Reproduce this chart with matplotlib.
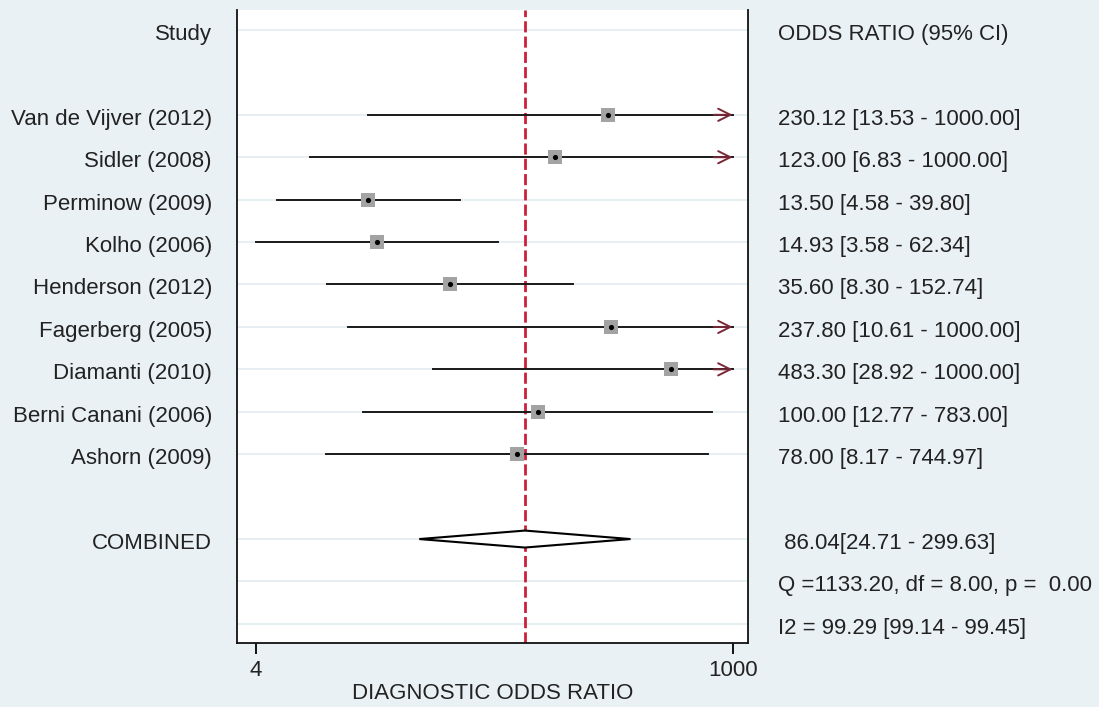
import matplotlib.pyplot as plt
import matplotlib.transforms as mtransforms

plt.rcParams['font.family'] = ['Liberation Sans', 'DejaVu Sans']

studies = ["Van de Vijver (2012)", "Sidler (2008)", "Perminow (2009)", "Kolho (2006)",
           "Henderson (2012)", "Fagerberg (2005)", "Diamanti (2010)",
           "Berni Canani (2006)", "Ashorn (2009)"]
odds = [230.12, 123.00, 13.50, 14.93, 35.60, 237.80, 483.30, 100.00, 78.00]
lower = [13.53, 6.83, 4.58, 3.58, 8.30, 10.61, 28.92, 12.77, 8.17]
upper = [1000.00, 1000.00, 39.80, 62.34, 152.74, 1000.00, 1000.00, 783.00, 744.97]

comb_or, comb_lo, comb_hi = 86.04, 24.71, 299.63
q_text = "Q =1133.20, df = 8.00, p =  0.00"
i2_text = "I2 = 99.29 [99.14 - 99.45]"

tick_vals = [3.58, 1000]
tick_labels = ["4", "1000"]

bg = '#eaf1f4'
fig = plt.figure(figsize=(10.99, 7.07), dpi=100, facecolor=bg)
ax = fig.add_axes([237 / 1099, 1 - 643 / 707, 511 / 1099, 633 / 707])
ax.set_facecolor('white')
ax.set_xscale('log')
ax.set_xlim(2.87, 1200)
ax.set_ylim(14.45, -0.47)

study_rows = list(range(2, 2 + len(studies)))
comb_row, q_row, i2_row = 12, 13, 14
grid_rows = [0] + study_rows + [comb_row, q_row, i2_row]
for r in grid_rows:
    ax.axhline(r, color='#e3ecf0', lw=1.2, zorder=0)

# pooled estimate line
ax.axvline(comb_or, color='#cc1f3a', lw=2, ls=(0, (4, 1.5)), zorder=1)

for r, o, lo, hi in zip(study_rows, odds, lower, upper):
    ax.plot([lo, hi], [r, r], color='#1a1a1a', lw=1.4, zorder=2)
    if hi >= 1000:
        ax.annotate('', xy=(hi, r), xytext=(hi * 0.8, r),
                    arrowprops=dict(arrowstyle='->', color='#7a2838', lw=1.4,
                                    mutation_scale=22, shrinkA=0, shrinkB=0),
                    zorder=3)
ax.scatter(odds, study_rows, marker='s', s=95, color='#a3a3a3', zorder=4, linewidths=0)
ax.scatter(odds, study_rows, marker='o', s=14, color='black', zorder=5, linewidths=0)

# pooled diamond
h = 0.2
ax.fill([comb_lo, comb_or, comb_hi, comb_or, comb_lo],
        [comb_row, comb_row - h, comb_row, comb_row + h, comb_row],
        facecolor='white', edgecolor='black', lw=1.5, zorder=3)

ax.spines['top'].set_visible(False)
for s in ['left', 'bottom', 'right']:
    ax.spines[s].set_color('#111111')
    ax.spines[s].set_linewidth(1.3)
ax.set_yticks([])
ax.set_xticks(tick_vals)
ax.set_xticklabels(tick_labels, fontsize=16, color='#222222')
ax.xaxis.set_minor_locator(plt.NullLocator())
ax.tick_params(axis='x', length=8, width=1.3, pad=4)
ax.set_xlabel("DIAGNOSTIC ODDS RATIO", fontsize=16, labelpad=2, color='#222222')

trans = mtransforms.blended_transform_factory(fig.transFigure, ax.transData)
lx = 212 / 1099
rx = 778 / 1099
fs = 16
dy = 0.235  # baseline offset below the row line
tc = '#222222'


def label(x, row, s, ha):
    ax.text(x, row + dy, s, transform=trans, ha=ha, va='baseline', fontsize=fs, color=tc)


label(lx, 0, "Study", 'right')
label(rx, 0, "ODDS RATIO (95% CI)", 'left')
for r, name, o, lo, hi in zip(study_rows, studies, odds, lower, upper):
    label(lx, r, name, 'right')
    label(rx, r, f"{o:.2f} [{lo:.2f} - {hi:.2f}]", 'left')
label(lx, comb_row, "COMBINED", 'right')
label(rx, comb_row, f" {comb_or:.2f}[{comb_lo:.2f} - {comb_hi:.2f}]", 'left')
label(rx, q_row, q_text, 'left')
label(rx, i2_row, i2_text, 'left')

fig.savefig('out.png', dpi=100, facecolor=bg)
